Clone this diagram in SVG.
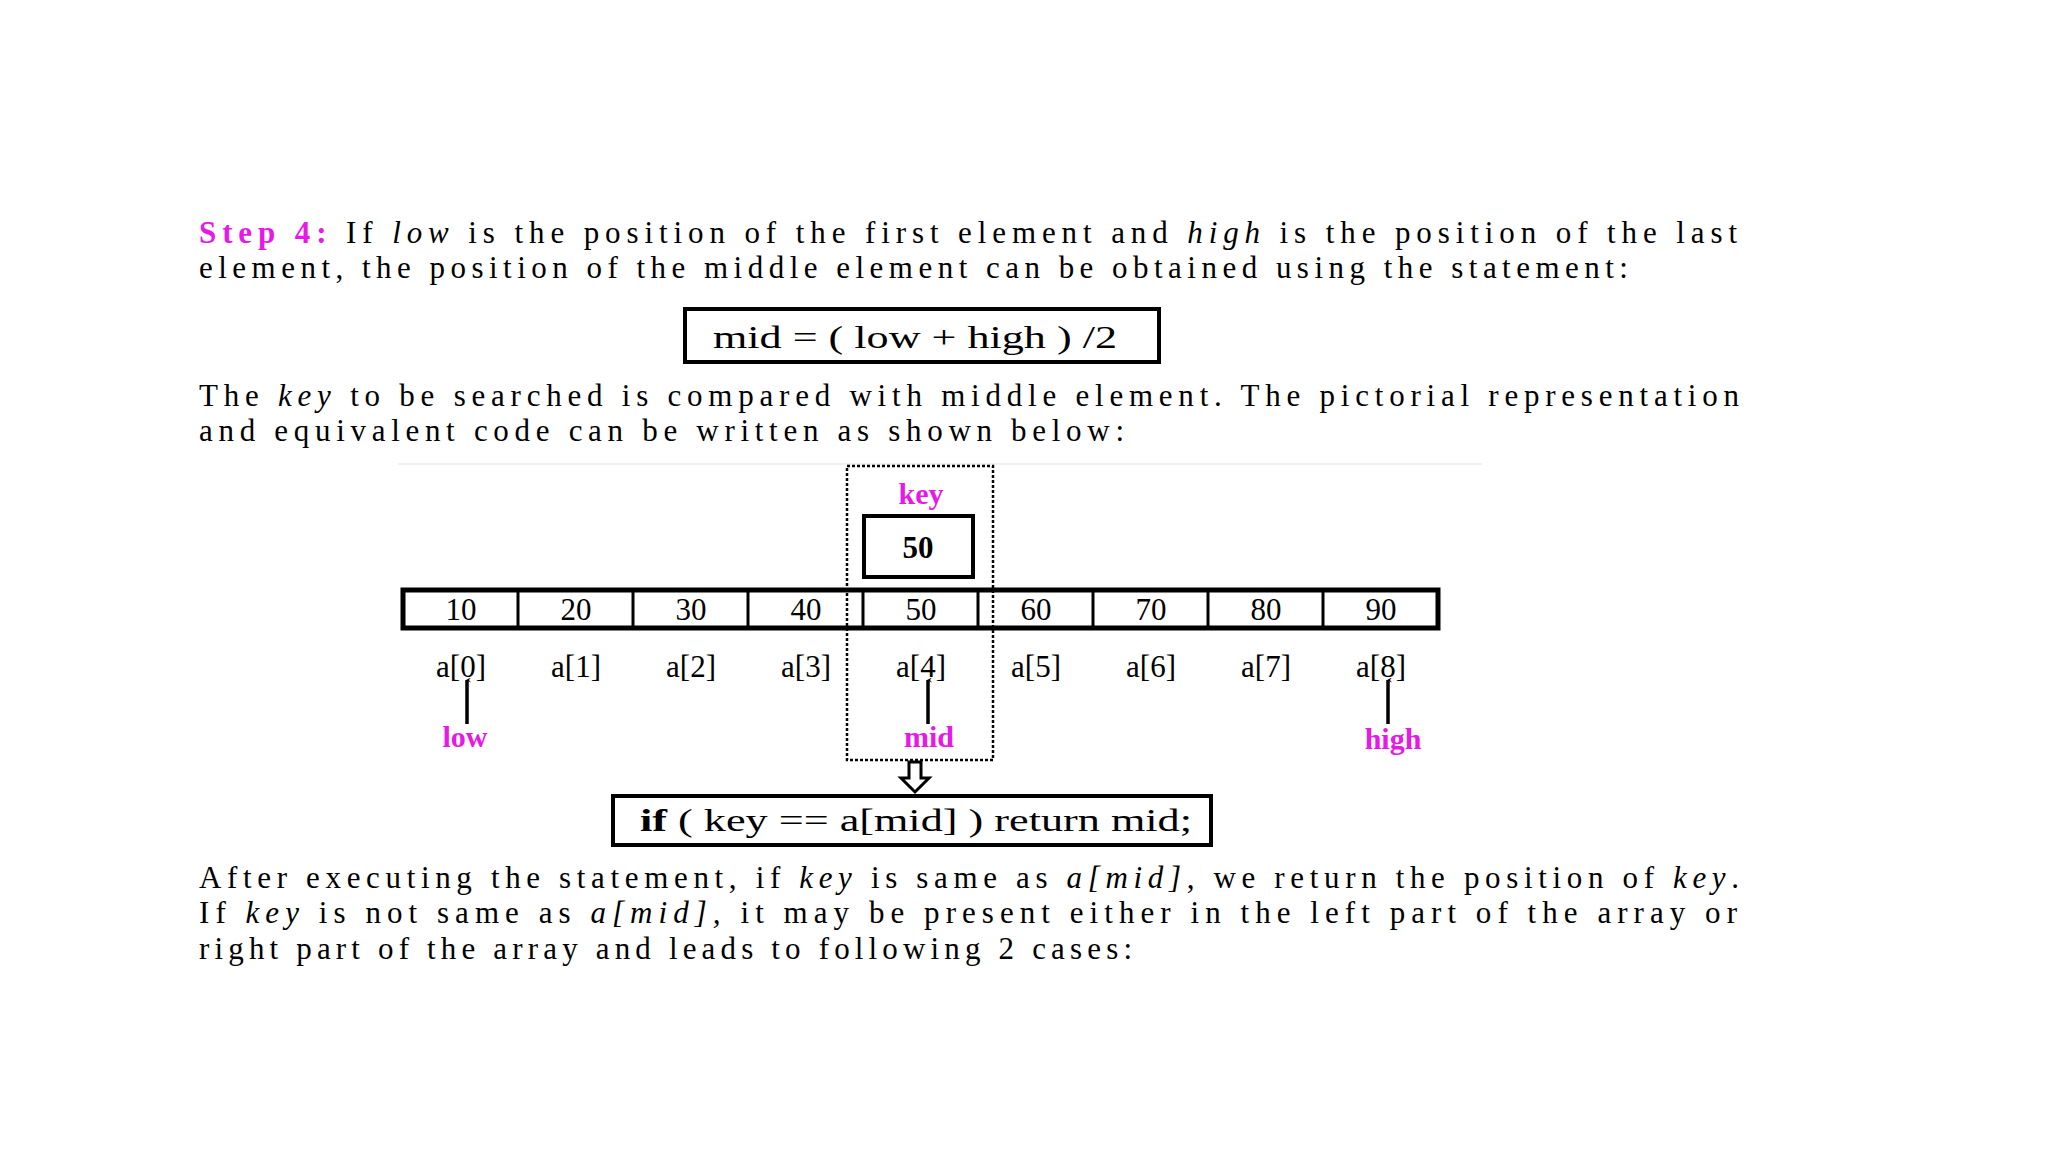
<svg xmlns="http://www.w3.org/2000/svg" width="2048" height="1152" viewBox="0 0 2048 1152">
<style>
text{font-family:"Liberation Serif","Times New Roman",serif;fill:#000}
.p{font-size:31px}
.m{fill:#e619e6;font-weight:bold}
.n{font-size:31px;text-anchor:middle}
.b{fill:none;stroke:#000}
</style>
<defs><marker id="ah" viewBox="0 0 10 10" refX="5" refY="2" markerWidth="5" markerHeight="5" orient="auto-start-reverse" markerUnits="userSpaceOnUse"><path d="M0,10 L5,0 L10,10 L5,6 Z" fill="#000"/></marker></defs>
<rect width="2048" height="1152" fill="#fff"/>
<g id="intro">
<text class="p" x="199" y="243" textLength="1538" lengthAdjust="spacing"><tspan class="m">Step 4:</tspan> If <tspan font-style="italic">low</tspan> is the position of the first element and <tspan font-style="italic">high</tspan> is the position of the last</text>
<text class="p" x="199" y="278" textLength="1429" lengthAdjust="spacing">element, the position of the middle element can be obtained using the statement:</text>
</g>
<g id="formula"><rect class="b" x="685" y="309" width="474" height="53" stroke-width="4"/>
<text class="p" x="713" y="348" textLength="404" lengthAdjust="spacingAndGlyphs">mid = ( low + high ) /2</text></g>
<g id="para2">
<text class="p" x="199" y="406" textLength="1540" lengthAdjust="spacing">The <tspan font-style="italic">key</tspan> to be searched is compared with middle element. The pictorial representation</text>
<text class="p" x="199" y="441" textLength="925" lengthAdjust="spacing">and equivalent code can be written as shown below:</text>
</g>
<line x1="398" y1="464" x2="1482" y2="464" stroke="#f0f0f0" stroke-width="2"/>
<g id="midbox"><rect x="847" y="466" width="146" height="294" fill="none" stroke="#000" stroke-width="2.5" stroke-dasharray="3,2"/></g>
<g id="key"><text x="921" y="504" font-size="30" text-anchor="middle" class="m">key</text>
<rect class="b" x="864" y="516" width="109" height="61" stroke-width="4"/>
<text x="918" y="558" font-size="31" font-weight="bold" text-anchor="middle">50</text></g>
<g id="array">
<rect class="b" x="403" y="590" width="1035" height="38" stroke-width="5"/>
<g stroke="#000" stroke-width="3">
<line x1="518" y1="590" x2="518" y2="628"/><line x1="633" y1="590" x2="633" y2="628"/><line x1="748" y1="590" x2="748" y2="628"/><line x1="863" y1="590" x2="863" y2="628"/><line x1="978" y1="590" x2="978" y2="628"/><line x1="1093" y1="590" x2="1093" y2="628"/><line x1="1208" y1="590" x2="1208" y2="628"/><line x1="1323" y1="590" x2="1323" y2="628"/></g>
<text class="n" x="461" y="620">10</text><text class="n" x="576" y="620">20</text><text class="n" x="691" y="620">30</text><text class="n" x="806" y="620">40</text><text class="n" x="921" y="620">50</text><text class="n" x="1036" y="620">60</text><text class="n" x="1151" y="620">70</text><text class="n" x="1266" y="620">80</text><text class="n" x="1381" y="620">90</text>
<text class="n" x="461" y="677">a[0]</text><text class="n" x="576" y="677">a[1]</text><text class="n" x="691" y="677">a[2]</text><text class="n" x="806" y="677">a[3]</text><text class="n" x="921" y="677">a[4]</text><text class="n" x="1036" y="677">a[5]</text><text class="n" x="1151" y="677">a[6]</text><text class="n" x="1266" y="677">a[7]</text><text class="n" x="1381" y="677">a[8]</text>
</g>
<g id="connectors" stroke="#000" stroke-width="3.5">
<line x1="467" y1="724" x2="467" y2="680" marker-end="url(#ah)"/>
<line x1="928" y1="724" x2="928" y2="680" marker-end="url(#ah)"/>
<line x1="1388" y1="724" x2="1388" y2="680" marker-end="url(#ah)"/>
<path d="M909,762 V778 H901 L915,792 L929,778 H921 V762 Z" fill="#fff" stroke-width="3"/>
</g>
<g id="labels"><text x="465" y="747" font-size="30" text-anchor="middle" class="m">low</text>
<text x="929" y="747" font-size="30" text-anchor="middle" class="m">mid</text>
<text x="1393" y="749" font-size="30" text-anchor="middle" class="m">high</text></g>
<g id="ifbox"><rect class="b" x="613" y="796" width="598" height="49" stroke-width="4"/>
<text class="p" x="640" y="831" textLength="552" lengthAdjust="spacingAndGlyphs"><tspan font-weight="bold">if</tspan> ( key == a[mid] ) return mid;</text></g>
<g id="para3">
<text class="p" x="199" y="888" textLength="1540" lengthAdjust="spacing">After executing the statement, if <tspan font-style="italic">key</tspan> is same as <tspan font-style="italic">a[mid]</tspan>, we return the position of <tspan font-style="italic">key</tspan>.</text>
<text class="p" x="199" y="923" textLength="1538" lengthAdjust="spacing">If <tspan font-style="italic">key</tspan> is not same as <tspan font-style="italic">a[mid],</tspan> it may be present either in the left part of the array or</text>
<text class="p" x="199" y="959" textLength="933" lengthAdjust="spacing">right part of the array and leads to following 2 cases:</text>
</g>
</svg>
